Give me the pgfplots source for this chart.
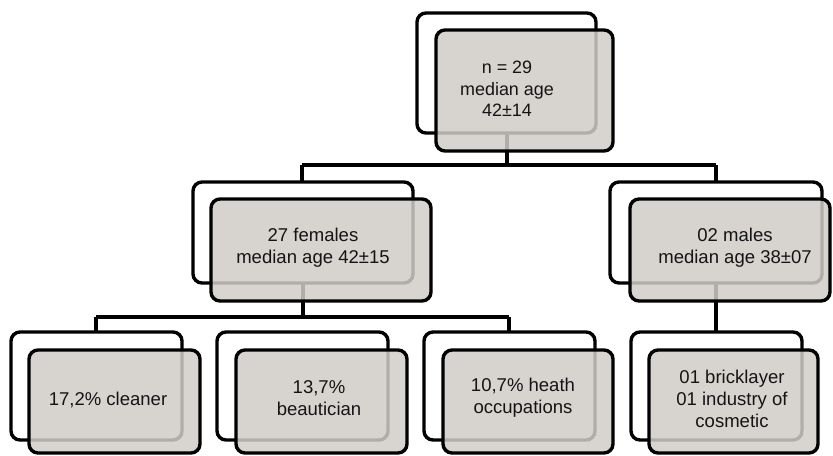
\documentclass[border=0pt]{standalone}
\usepackage{pgfplots}
\pgfplotsset{compat=1.18}
\usepackage{fontspec}
\setmainfont{Liberation Sans}
\definecolor{boxgray}{RGB}{209,205,200}
\definecolor{txt}{RGB}{20,20,20}
\pgfplotsset{
  backbox/.style={draw=black, fill=white, line width=3.4bp, rounded corners=9bp, mark=none},
  frontbox/.style={draw=black, fill=boxgray, fill opacity=0.85, draw opacity=1, line width=3.4bp, rounded corners=9bp, mark=none},
  conn/.style={draw=black, line width=3.4bp, mark=none},
}
\begin{document}
\begin{tikzpicture}
\begin{axis}[
  width=833bp, height=456bp, scale only axis,
  xmin=0, xmax=833, ymin=0, ymax=456, y dir=reverse,
  hide axis, clip=false,
]
\path (axis cs:0,0) (axis cs:833,456);
% connectors
\addplot[conn] coordinates {(507,133) (507,165)};
\addplot[conn] coordinates {(302,165) (716,165)};
\addplot[conn] coordinates {(302,165) (302,182)};
\addplot[conn] coordinates {(716,165) (716,182)};
\addplot[conn] coordinates {(303,283) (303,317)};
\addplot[conn] coordinates {(96,317) (509,317)};
\addplot[conn] coordinates {(96,317) (96,332)};
\addplot[conn] coordinates {(509,317) (509,332)};
\addplot[conn] coordinates {(716,283) (716,332)};
% back boxes
\addplot[backbox] coordinates {(417,13) (596,13) (596,133) (417,133)} -- cycle;
\addplot[backbox] coordinates {(193,182) (413,182) (413,283) (193,283)} -- cycle;
\addplot[backbox] coordinates {(610,182) (822,182) (822,283) (610,283)} -- cycle;
\addplot[backbox] coordinates {(11,332) (182,332) (182,440) (11,440)} -- cycle;
\addplot[backbox] coordinates {(217,332) (388,332) (388,440) (217,440)} -- cycle;
\addplot[backbox] coordinates {(424,332) (595,332) (595,440) (424,440)} -- cycle;
\addplot[backbox] coordinates {(631,332) (802,332) (802,440) (631,440)} -- cycle;
% front boxes
\addplot[frontbox] coordinates {(436,30) (613,30) (613,151) (436,151)} -- cycle;
\addplot[frontbox] coordinates {(211,199) (431,199) (431,301) (211,301)} -- cycle;
\addplot[frontbox] coordinates {(630,199) (830,199) (830,301) (630,301)} -- cycle;
\addplot[frontbox] coordinates {(29,350) (200,350) (200,453) (29,453)} -- cycle;
\addplot[frontbox] coordinates {(236,350) (407,350) (407,453) (236,453)} -- cycle;
\addplot[frontbox] coordinates {(443,350) (613,350) (613,453) (443,453)} -- cycle;
\addplot[frontbox] coordinates {(649,350) (818,350) (818,453) (649,453)} -- cycle;
% labels
\tikzset{lbl/.style={align=center, text=txt, font=\fontsize{18.6}{21.8}\selectfont, inner sep=0pt}}
\node[lbl, font=\fontsize{18}{21.8}\selectfont] at (axis cs:507,89) {n = 29\\median age\\42±14};
\node[lbl] at (axis cs:313,248) {27 females\\median age 42±15};
\node[lbl] at (axis cs:735,248) {02 males\\median age 38±07};
\node[lbl] at (axis cs:108,400) {17,2\% cleaner};
\node[lbl] at (axis cs:319,398) {13,7\%\\beautician};
\node[lbl] at (axis cs:523,398) {10,7\% heath\\occupations};
\node[lbl] at (axis cs:732,399) {01 bricklayer\\01 industry of\\cosmetic};
\end{axis}
\end{tikzpicture}
\end{document}
